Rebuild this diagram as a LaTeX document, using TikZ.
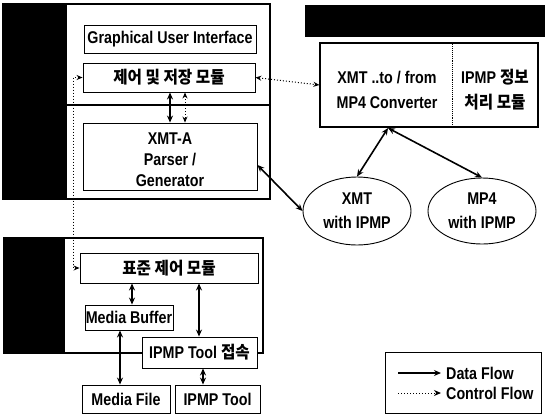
\documentclass[tikz,border=0pt]{standalone}
\usepackage{fontspec}
\setmainfont[FakeStretch=0.84]{Liberation Sans}
\newfontfamily\kor[FakeStretch=0.92]{Noto Sans CJK KR}
\usetikzlibrary{arrows.meta,calc,shapes.geometric}
\newcommand{\kr}[1]{{\kor\bfseries #1}}
\begin{document}
\begin{tikzpicture}[x=1pt,y=-1pt,
  font=\fontsize{17}{20}\selectfont\bfseries,
  box/.style={draw, fill=white, line width=0.9pt, inner sep=0pt, align=center},
  ell/.style={draw, ellipse, line width=0.9pt, inner sep=0pt, align=center},
  outer/.style={line width=2.2pt},
  data/.style={line width=1.6pt, {Stealth[length=7pt,width=6pt]}-{Stealth[length=7pt,width=6pt]}},
  ctrl/.style={line width=1pt, dotted, {Stealth[length=6pt,width=5pt]}-{Stealth[length=6pt,width=5pt]}},
  ]
\useasboundingbox (0,0) rectangle (550,416);
% top-left outer block
\fill (3,4) rectangle (67,199);
\draw[outer] (3,4) rectangle (270,199);
\draw[line width=1.6pt] (67,105) -- (270,105);
% lower-left outer block
\fill (4,238) rectangle (65,353);
\draw[outer] (4,238) rectangle (263,353);
% top-right black bar
\fill (305,5) rectangle (545,37);

\node[box, minimum width=172pt, minimum height=28pt] (gui) at (170,39) {Graphical User Interface};
\node[box, minimum width=172pt, minimum height=29pt] (cm) at (169,77.5) {\kr{제어 및 저장 모듈}};
\node[box, minimum width=174pt, minimum height=67pt] (xmta) at (170,156.5) {};
\node[align=center, inner sep=0pt, font=\fontsize{17}{21}\selectfont\bfseries] (xmtat) at (170,160) {XMT-A\\Parser /\\Generator};

\node[box, minimum width=218pt, minimum height=84pt, line width=1.2pt] (conv) at (429,85) {};
\draw[line width=0.9pt, densely dotted] (conv.north -| 452,0) -- (conv.south -| 452,0);
\node[align=center, font=\fontsize{17}{25}\selectfont\bfseries] (convl) at (387,90) {XMT ..to / from\\MP4 Converter};
\node[align=center, font=\fontsize{17}{25}\selectfont\bfseries] (convr) at (495,90) {IPMP \kr{정보}\\\kr{처리 모듈}};

\node[ell, minimum width=108pt, minimum height=68pt, font=\fontsize{17}{24}\selectfont\bfseries] (e1) at (357,211) {XMT\\with IPMP};
\node[ell, minimum width=108pt, minimum height=66pt, font=\fontsize{17}{24}\selectfont\bfseries] (e2) at (482,211) {MP4\\with IPMP};

\node[box, minimum width=178pt, minimum height=30pt] (std) at (169,268) {\kr{표준 제어 모듈}};
\node[box, minimum width=88pt, minimum height=25pt] (mbuf) at (129,317.5) {Media Buffer};
\node[box, minimum width=115pt, minimum height=31pt] (itc) at (199.5,352.5) {IPMP Tool \kr{접속}};
\node[box, minimum width=88pt, minimum height=28pt] (mfile) at (126,399) {Media File};
\node[box, minimum width=85pt, minimum height=28pt] (itool) at (217.5,399) {IPMP Tool};

% connectors top
\draw[data] (cm.south -| xmta.north) -- (xmta.north);
\draw[ctrl] ($(cm.south -| xmta.north)+(15,0)$) -- ($(xmta.north)+(15,0)$);
\draw[ctrl] (cm.east) -- (conv.west);
\draw[ctrl] (cm.west) -| (73,268) -- (std.west);
\coordinate (cb) at (388,128);
\draw[data] (cb) -- (e1.north);
\draw[data] (cb) -- (e2.north);
\draw[data] (xmta.east |- 0,165) -- (e1.west);

% connectors bottom
\draw[data] (std.south -| 132,0) -- (mbuf.north -| 132,0);
\draw[data] (std.south -| 199,0) -- (itc.north -| 199,0);
\draw[data] (mbuf.south -| 120,0) -- (mfile.north -| 120,0);
\draw[data] (itc.south -| 203,0) -- (itool.north -| 203,0);

% legend
\node[draw, line width=1pt, minimum width=156pt, minimum height=61pt, inner sep=0pt] (leg) at (463,382.5) {};
\coordinate (l1a) at (398,373); \coordinate (l1b) at (441,373);
\coordinate (l2a) at (398,393); \coordinate (l2b) at (441,393);
\draw[line width=1.6pt, -{Stealth[length=7pt,width=6pt]}] (l1a) -- (l1b);
\draw[line width=1pt, dotted, -{Stealth[length=7pt,width=6pt]}] (l2a) -- (l2b);
\node[anchor=west, inner sep=0pt] (t1) at (446,373) {Data Flow};
\node[anchor=west, inner sep=0pt] (t2) at (446,393) {Control Flow};
\end{tikzpicture}
\end{document}
